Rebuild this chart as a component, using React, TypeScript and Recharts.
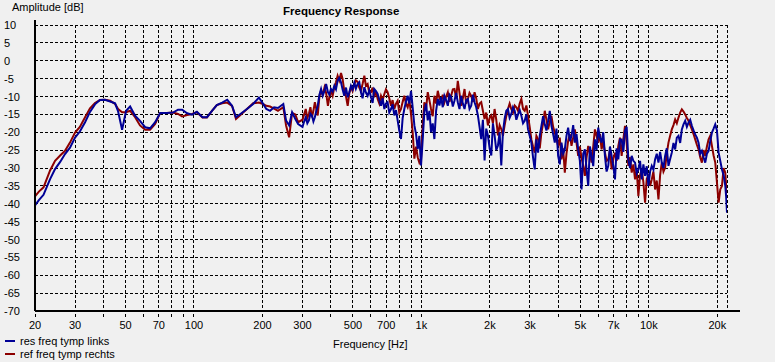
import { LineChart, Line, XAxis, YAxis, CartesianGrid } from "recharts";

// frequency points in Hz
const freqs = [
  20, 20.8, 21.8, 23.3, 24.5, 25.8, 27.1, 28.5, 30, 31.5,
  33.2, 34.9, 36.7, 38.6, 40.6, 42.8, 45, 46.4, 48.3, 50.3,
  52.4, 55.1, 57.9, 61, 64.1, 67.5, 71, 76.1, 80.9, 85.1,
  88.7, 93.3, 98.1, 103, 109, 114, 120, 126, 133, 140,
  147, 153, 160, 171, 182, 193, 201, 208, 216, 225,
  234, 247, 254, 262, 270, 279, 287,
  300, 305, 310, 315, 320, 325, 330, 335, 340, 345, 350, 356, 362, 368, 375, 381, 388, 394, 400, 407,
  414, 421, 428, 435, 443, 450, 458, 466, 474, 482, 490, 498, 507, 515, 524, 533, 542, 551, 561, 570,
  580, 590, 600, 610, 620, 631, 642, 653, 664, 675, 687, 698, 710, 722, 735, 747, 760, 773, 786, 799,
  813, 827, 841, 855, 870, 885, 900, 915, 931, 947, 963, 979, 996, 1013, 1030, 1048, 1066, 1084, 1102, 1121,
  1140, 1160, 1180, 1200, 1220, 1241, 1262, 1284, 1306, 1328, 1351, 1374, 1397, 1421, 1445, 1470, 1495, 1521, 1547, 1573,
  1600, 1627, 1655, 1683, 1712, 1741, 1771, 1801, 1832, 1863, 1895, 1927, 1960, 1994, 2028, 2062, 2097, 2133, 2170, 2207,
  2244, 2282, 2321, 2361, 2401, 2442, 2484, 2527, 2570, 2614, 2658, 2704, 2750, 2797, 2844, 2893, 2942, 2992, 3043, 3095,
  3148, 3202, 3257, 3313, 3369, 3427, 3485, 3545, 3605, 3667, 3729, 3793, 3857, 3923, 3990, 4058, 4127, 4198, 4269, 4342,
  4416, 4492, 4568, 4647, 4726, 4807, 4888, 4972, 5057, 5144, 5231, 5321, 5411, 5504, 5597, 5693, 5790, 5889, 5989, 6092,
  6195, 6301, 6409, 6518, 6629, 6743, 6858, 6975, 7094, 7215, 7338, 7464, 7591, 7721, 7852, 7986, 8122, 8261, 8402, 8545,
  8691, 8840, 8990, 9144, 9300, 9459, 9620, 9785, 9951, 10121, 10294, 10470, 10648, 10830, 11015, 11203, 11394, 11589, 11786, 11988,
  12192, 12400, 12611, 12827, 13045, 13268, 13494, 13725, 13959, 14197, 14439, 14686, 14936, 15191, 15450, 15714, 15982, 16255, 16532, 16814,
  17101, 17393, 17690, 17992, 18299, 18611, 18929, 19252, 19580, 19915, 20254, 20600, 20951, 21309, 21673, 21860, 22050,
];

// res freq tymp links (blue), dB
const links = [
  -40.5, -39.0, -37.5, -33.1, -30.3, -28.3, -26.1, -24.3, -21.5, -19.8,
  -17.2, -14.3, -12.2, -11.0, -10.9, -11.4, -11.9, -14.2, -19.3, -14.0,
  -12.8, -15.4, -16.8, -18.6, -18.9, -17.2, -14.6, -14.6, -14.5, -13.7,
  -13.7, -14.7, -15.1, -14.3, -15.8, -15.8, -14.0, -12.4, -11.7, -10.9,
  -12.6, -15.8, -14.9, -13.5, -12.1, -10.3, -12.0, -13.5, -14.0, -13.0,
  -13.2, -12.1, -16.7, -18.1, -14.4, -16.3, -17.7,
  -18.5, -17.0, -15.8, -17.5, -16.7, -14.8, -15.3, -17.0, -15.8, -14.0, -12.6, -9.5, -7.9, -9.8, -8.4, -6.5, -8.8, -9.5, -7.9, -8.6,
  -7.0, -8.0, -5.6, -4.8, -6.0, -8.0, -9.8, -7.5, -10.2, -8.8, -7.0, -8.0, -6.2, -7.8, -6.5, -6.0, -8.8, -10.5, -7.4, -8.9,
  -9.8, -8.2, -10.2, -11.8, -7.9, -8.5, -9.3, -11.0, -12.6, -10.5, -13.5, -12.0, -11.6, -14.5, -13.5, -12.2, -15.3, -13.8, -16.7, -19.5,
  -21.9, -16.0, -13.5, -11.5, -9.8, -12.0, -8.4, -13.0, -18.1, -20.5, -24.7, -21.0, -29.3, -22.0, -14.4, -12.0, -16.7, -14.0, -20.0, -17.5,
  -21.9, -14.0, -10.7, -12.5, -10.2, -13.0, -9.8, -11.0, -12.6, -9.5, -10.2, -12.8, -11.2, -9.0, -11.6, -13.5, -9.8, -12.0, -13.5, -11.0,
  -10.7, -13.5, -12.6, -9.5, -11.6, -13.0, -15.3, -18.5, -21.9, -16.5, -27.9, -19.0, -20.9, -24.5, -26.5, -17.5, -20.9, -25.0, -23.7, -20.0,
  -29.3, -20.0, -16.3, -14.0, -13.5, -16.0, -14.9, -13.0, -14.0, -16.5, -15.0, -13.8, -15.4, -17.5, -16.8, -15.0, -19.2, -21.0, -22.9, -27.0,
  -30.4, -22.0, -25.7, -21.0, -18.2, -15.5, -17.8, -19.5, -16.8, -14.0, -18.2, -20.5, -22.9, -19.0, -26.6, -29.0, -22.9, -26.0, -24.8, -21.0,
  -18.7, -22.5, -21.0, -18.0, -22.9, -20.5, -24.8, -28.0, -36.0, -26.0, -24.8, -30.5, -35.0, -24.0, -26.6, -29.5, -22.0, -25.0, -18.7, -21.5,
  -22.9, -20.0, -26.6, -31.0, -29.4, -24.0, -26.6, -29.5, -33.2, -24.5, -27.6, -22.0, -22.0, -25.5, -19.6, -18.5, -27.6, -30.0, -26.6, -28.0,
  -28.5, -31.5, -30.4, -28.0, -33.2, -29.0, -32.2, -29.5, -35.0, -31.0, -29.4, -30.5, -27.6, -26.0, -28.5, -25.5, -28.5, -30.0, -26.6, -24.5,
  -29.4, -27.5, -25.7, -23.0, -24.8, -21.5, -21.0, -23.0, -19.2, -17.8, -16.8, -18.5, -17.3, -16.5, -18.2, -19.5, -20.6, -21.5, -22.9, -26.0,
  -25.2, -27.0, -28.5, -26.0, -25.2, -22.5, -20.1, -19.0, -17.8, -19.5, -25.7, -28.0, -30.4, -32.0, -35.0, -38.0, -42.5,
];

// ref freq tymp rechts (red), dB
const rechts = [
  -37.9, -36.6, -35.4, -30.7, -28.0, -26.5, -25.2, -22.9, -20.1, -18.5,
  -15.8, -13.3, -11.8, -11.0, -10.9, -11.2, -12.1, -13.5, -14.4, -14.4,
  -14.0, -15.8, -18.1, -19.3, -19.3, -17.7, -14.6, -14.6, -14.5, -14.9,
  -15.6, -15.2, -14.9, -14.4, -15.9, -15.9, -14.0, -12.4, -11.9, -11.7,
  -12.6, -16.3, -15.2, -13.5, -11.9, -11.7, -12.1, -12.6, -12.8, -13.4,
  -14.0, -13.0, -18.1, -21.4, -14.6, -15.0, -17.2,
  -16.5, -15.0, -13.5, -16.0, -14.9, -13.0, -15.8, -14.0, -11.6, -13.5, -15.3, -10.0, -8.4, -9.5, -7.4, -9.0, -12.6, -10.0, -8.4, -9.8,
  -7.4, -6.0, -4.2, -5.5, -3.4, -5.0, -8.4, -10.0, -12.6, -9.0, -7.4, -8.5, -6.5, -5.5, -5.9, -7.5, -8.4, -6.5, -4.2, -7.0,
  -6.5, -9.0, -8.8, -7.5, -10.2, -8.5, -10.7, -12.0, -9.8, -11.0, -9.3, -8.0, -8.8, -10.5, -12.6, -11.0, -13.5, -12.0, -11.2, -14.5,
  -13.5, -11.5, -9.8, -12.0, -13.0, -11.0, -14.9, -20.0, -27.4, -24.0, -27.0, -28.5, -27.4, -18.0, -11.6, -13.5, -8.8, -11.0, -13.5, -15.5,
  -9.8, -12.0, -8.4, -10.5, -11.2, -9.5, -11.6, -10.0, -8.8, -11.5, -9.8, -8.0, -7.9, -10.5, -5.6, -9.0, -12.6, -10.5, -7.9, -12.0,
  -10.7, -9.0, -9.8, -11.5, -8.8, -10.5, -13.5, -12.0, -11.6, -14.0, -16.3, -14.5, -18.1, -16.0, -15.3, -17.5, -13.5, -16.5, -20.9, -18.0,
  -19.1, -21.0, -18.1, -15.5, -13.5, -12.0, -13.5, -14.5, -12.5, -13.0, -14.0, -12.0, -10.7, -13.5, -14.0, -12.5, -15.4, -18.5, -22.0, -24.0,
  -25.7, -21.0, -22.0, -24.5, -20.1, -17.5, -14.0, -16.5, -19.2, -17.0, -15.4, -18.5, -20.1, -22.0, -23.8, -21.5, -27.6, -24.5, -31.3, -26.0,
  -22.4, -20.5, -23.8, -21.5, -19.2, -23.0, -26.6, -24.0, -27.1, -29.5, -32.2, -27.0, -23.8, -26.0, -28.5, -24.0, -19.2, -21.0, -22.9, -20.5,
  -24.8, -22.5, -25.7, -28.0, -27.6, -25.0, -30.4, -27.5, -25.7, -28.0, -23.8, -21.5, -26.6, -22.0, -18.2, -23.0, -29.4, -27.0, -31.3, -29.0,
  -33.2, -30.5, -37.9, -32.0, -30.4, -34.0, -39.7, -33.0, -32.2, -35.0, -33.2, -31.0, -36.0, -33.5, -38.8, -32.0, -28.5, -31.0, -29.9, -26.0,
  -22.9, -21.0, -19.2, -18.0, -16.4, -17.5, -15.9, -14.5, -13.6, -14.2, -15.0, -16.0, -16.8, -18.0, -19.2, -20.5, -22.0, -23.5, -24.8, -27.0,
  -28.5, -25.0, -26.6, -24.0, -22.0, -21.0, -23.8, -26.5, -28.5, -34.0, -39.7, -36.0, -35.0, -30.0, -31.3, -35.0, -38.0,
];

const xTicks = [
  20, 30, 40, 50, 60, 70, 80, 90, 100,
  200, 300, 400, 500, 600, 700, 800, 900, 1000,
  2000, 3000, 4000, 5000, 6000, 7000, 8000, 9000, 10000, 20000,
];
const xLabels: Record<number, string> = {
  20: "20", 30: "30", 50: "50", 70: "70", 100: "100",
  200: "200", 300: "300", 500: "500", 700: "700", 1000: "1k",
  2000: "2k", 3000: "3k", 5000: "5k", 7000: "7k", 10000: "10k", 20000: "20k",
};
const yTicks = [-70, -65, -60, -55, -50, -45, -40, -35, -30, -25, -20, -15, -10, -5, 0, 5, 10];

const data = freqs.map((f, i) => ({ f, links: links[i], rechts: rechts[i] }));

const FONT = "'Liberation Sans', Arial, sans-serif";
const BLUE = "#000096";
const RED = "#8c0000";

const XTick = (props: any) => {
  const { x, y, payload } = props;
  const label = xLabels[payload.value];
  if (!label) return <g />;
  return (
    <text x={x} y={y + 10} textAnchor="middle" fontSize={11} fontFamily={FONT} fill="#000">
      {label}
    </text>
  );
};

const YTick = (props: any) => {
  const { y, payload } = props;
  return (
    <text x={4} y={y + 4} textAnchor="start" fontSize={11} fontFamily={FONT} fill="#000">
      {payload.value}
    </text>
  );
};

const css = `
.recharts-cartesian-grid line,
.recharts-cartesian-axis-tick-line,
.recharts-cartesian-axis-line { shape-rendering: crispEdges; }
`;

export default function App() {
  const txt = { position: "absolute" as const, fontFamily: FONT, fontSize: 11, color: "#000", whiteSpace: "nowrap" as const, lineHeight: "12px" };
  return (
    <div style={{ position: "absolute", left: 0, top: 0, width: 775, height: 362, background: "#f0f0f0", overflow: "hidden" }}>
      <style>{css}</style>
      <LineChart width={775} height={362} data={data} margin={{ top: 25, right: 48, bottom: 0, left: 0 }}>
        <CartesianGrid stroke="#000" strokeDasharray="3 2" />
        <XAxis
          dataKey="f"
          type="number"
          scale="log"
          domain={[20, 22050]}
          ticks={xTicks}
          interval={0}
          height={51}
          tickSize={6}
          tick={XTick}
          tickLine={{ stroke: "#000", strokeDasharray: "3 2" }}
          axisLine={{ stroke: "#000", strokeWidth: 2 }}
          allowDataOverflow
        />
        <YAxis
          type="number"
          domain={[-70, 10]}
          ticks={yTicks}
          interval={0}
          width={35}
          tickLine={false}
          tick={YTick}
          axisLine={{ stroke: "#000", strokeWidth: 2 }}
        />
        <Line type="linear" dataKey="rechts" stroke={RED} strokeWidth={2} dot={false} isAnimationActive={false} />
        <Line type="linear" dataKey="links" stroke={BLUE} strokeWidth={2} dot={false} isAnimationActive={false} />
      </LineChart>
      <div style={{ position: "absolute", left: 726, top: 310, width: 14, height: 2, background: "#000" }} />
      <div style={{ position: "absolute", left: 34, top: 20, width: 2, height: 6, background: "#000" }} />
      <div style={{ ...txt, left: 12, top: 1 }}>Amplitude [dB]</div>
      <div style={{ ...txt, left: 283, top: 5, fontWeight: "bold", fontSize: 11.5 }}>Frequency Response</div>
      <div style={{ ...txt, left: 333, top: 338 }}>Frequency [Hz]</div>
      <div style={{ position: "absolute", left: 5, top: 340, width: 10, height: 2, background: BLUE }} />
      <div style={{ ...txt, left: 20, top: 335 }}>res freq tymp links</div>
      <div style={{ position: "absolute", left: 5, top: 353, width: 10, height: 2, background: RED }} />
      <div style={{ ...txt, left: 20, top: 348 }}>ref freq tymp rechts</div>
    </div>
  );
}
